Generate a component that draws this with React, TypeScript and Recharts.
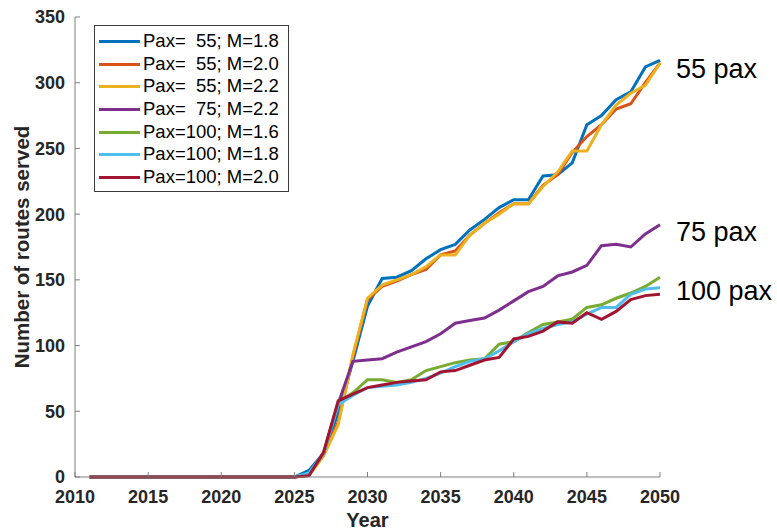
import React from 'react';
import { LineChart, Line, XAxis, YAxis, Legend, ReferenceDot, Label } from 'recharts';

// Simulation years (one point per year)
const years = [
  2011, 2012, 2013, 2014, 2015, 2016, 2017, 2018, 2019, 2020,
  2021, 2022, 2023, 2024, 2025, 2026, 2027, 2028, 2029, 2030,
  2031, 2032, 2033, 2034, 2035, 2036, 2037, 2038, 2039, 2040,
  2041, 2042, 2043, 2044, 2045, 2046, 2047, 2048, 2049, 2050,
];

// Number of routes served per scenario (2011 … 2050)
const pax55M18 = [
  0, 0, 0, 0, 0, 0, 0, 0, 0, 0, 0, 0, 0, 0,
  0, 5, 18, 49, 88, 130, 151, 152, 157, 166, 173, 177, 188, 196, 205, 211,
  211, 229, 230, 239, 268, 275, 287, 293, 312, 317,
];
const pax55M20 = [
  0, 0, 0, 0, 0, 0, 0, 0, 0, 0, 0, 0, 0, 0,
  0, 2, 17, 42, 91, 135, 145, 149, 154, 158, 169, 172, 184, 193, 201, 208,
  208, 222, 230, 247, 259, 268, 280, 284, 300, 315,
];
const pax55M22 = [
  0, 0, 0, 0, 0, 0, 0, 0, 0, 0, 0, 0, 0, 0,
  0, 1, 16, 40, 93, 136, 146, 150, 154, 160, 169, 169, 184, 193, 200, 208,
  208, 221, 232, 248, 248, 268, 283, 292, 298, 315,
];
const pax75M22 = [
  0, 0, 0, 0, 0, 0, 0, 0, 0, 0, 0, 0, 0, 0,
  0, 2, 18, 56, 88, 89, 90, 95, 99, 103, 109, 117, 119, 121, 127, 134,
  141, 145, 153, 156, 161, 176, 177, 175, 185, 192,
];
const pax100M16 = [
  0, 0, 0, 0, 0, 0, 0, 0, 0, 0, 0, 0, 0, 0,
  0, 2, 18, 57, 64, 74, 74, 72, 74, 81, 84, 87, 89, 90, 101, 103,
  110, 116, 118, 120, 129, 131, 136, 140, 145, 152,
];
const pax100M18 = [
  0, 0, 0, 0, 0, 0, 0, 0, 0, 0, 0, 0, 0, 0,
  0, 3, 18, 55, 62, 68, 69, 70, 72, 75, 79, 84, 88, 90, 96, 103,
  109, 113, 116, 118, 124, 129, 129, 139, 143, 144,
];
const pax100M20 = [
  0, 0, 0, 0, 0, 0, 0, 0, 0, 0, 0, 0, 0, 0,
  0, 1, 19, 58, 63, 68, 70, 72, 73, 74, 80, 81, 85, 89, 91, 105,
  107, 111, 118, 117, 125, 120, 126, 135, 138, 139,
];

const seriesNames = [
  'Pax=  55; M=1.8',
  'Pax=  55; M=2.0',
  'Pax=  55; M=2.2',
  'Pax=  75; M=2.2',
  'Pax=100; M=1.6',
  'Pax=100; M=1.8',
  'Pax=100; M=2.0',
];
const seriesColors = ['#0072BD', '#D95319', '#EDB120', '#7E2F8E', '#77AC30', '#4DBEEE', '#A2142F'];
const seriesValues = [pax55M18, pax55M20, pax55M22, pax75M22, pax100M16, pax100M18, pax100M20];
const seriesKeys = ['s0', 's1', 's2', 's3', 's4', 's5', 's6'];

const xTicks = [2010, 2015, 2020, 2025, 2030, 2035, 2040, 2045, 2050];
const yTicks = [0, 50, 100, 150, 200, 250, 300, 350];

// Group labels at the right edge of the plot
const groupLabels = [
  { text: '55 pax', value: 311 },
  { text: '75 pax', value: 187 },
  { text: '100 pax', value: 142 },
];

const data = years.map((year, i) => {
  const row: Record<string, number> = { year };
  seriesKeys.forEach((k, j) => {
    row[k] = seriesValues[j][i];
  });
  return row;
});

const FONT = "'Liberation Sans', Arial, Helvetica, sans-serif";
const AXIS_COLOR = '#7f7f7f';
const tickStyle = { fontSize: 18, fontWeight: 700, fill: '#262626', fontFamily: FONT };

const renderLegend = (props: any) => {
  const payload = [...(props.payload || [])].sort(
    (a: any, b: any) => seriesNames.indexOf(a.value) - seriesNames.indexOf(b.value),
  );
  return (
    <div
      style={{
        border: '1px solid #3c3c3c',
        background: '#fff',
        width: 195,
        height: 167,
        boxSizing: 'border-box',
        padding: '4px 0 0 0',
        fontFamily: FONT,
        fontSize: 18.5,
        color: '#000',
      }}
    >
      {payload.map((entry: any) => (
        <div
          key={entry.value}
          style={{ display: 'flex', alignItems: 'center', height: 22.7, lineHeight: '22.7px' }}
        >
          <span
            style={{
              display: 'inline-block',
              width: 41,
              height: 3,
              background: entry.color,
              marginLeft: 4,
              marginRight: 3,
            }}
          />
          <span style={{ whiteSpace: 'pre' }}>{entry.value}</span>
        </div>
      ))}
    </div>
  );
};

export default function App() {
  return (
    <div style={{ width: 777, height: 530, background: '#fff' }}>
      <style>{'body { margin: 0; }'}</style>
      <LineChart
        width={777}
        height={530}
        data={data}
        margin={{ top: 17, right: 117, bottom: 0, left: 0 }}
      >
        <XAxis
          dataKey="year"
          type="number"
          domain={[2010, 2050]}
          ticks={xTicks}
          allowDecimals={false}
          height={53}
          stroke={AXIS_COLOR}
          tickSize={-5}
          tickMargin={18}
          tick={tickStyle}
          interval={0}
        >
          <Label
            value="Year"
            position="insideBottom"
            offset={3}
            style={{ fontSize: 20, fontWeight: 700, fill: '#262626', fontFamily: FONT }}
          />
        </XAxis>
        <XAxis
          xAxisId="top"
          orientation="top"
          dataKey="year"
          type="number"
          domain={[2010, 2050]}
          ticks={xTicks}
          height={0}
          stroke={AXIS_COLOR}
          tickSize={-5}
          tickFormatter={() => ''}
          interval={0}
        />
        <YAxis
          type="number"
          domain={[0, 350]}
          ticks={yTicks}
          width={75}
          stroke={AXIS_COLOR}
          tickSize={-5}
          tickMargin={15}
          tick={tickStyle}
          interval={0}
        >
          <Label
            value="Number of routes served"
            angle={-90}
            position="insideLeft"
            offset={22}
            style={{ fontSize: 20.5, fontWeight: 700, fill: '#262626', fontFamily: FONT, textAnchor: 'middle' }}
          />
        </YAxis>
        <YAxis
          yAxisId="right"
          orientation="right"
          type="number"
          domain={[0, 350]}
          ticks={yTicks}
          width={0}
          stroke={AXIS_COLOR}
          tickSize={-5}
          tickFormatter={() => ''}
          interval={0}
        />
        {seriesKeys.map((k, j) => (
          <Line
            key={k}
            dataKey={k}
            name={seriesNames[j]}
            type="linear"
            stroke={seriesColors[j]}
            strokeWidth={3}
            dot={false}
            activeDot={false}
            isAnimationActive={false}
          />
        ))}
        {groupLabels.map((g) => (
          <ReferenceDot
            key={g.text}
            x={2050}
            y={g.value}
            r={0}
            fill="none"
            stroke="none"
            ifOverflow="visible"
            label={{
              value: g.text,
              position: 'right',
              offset: 16,
              fontSize: 27,
              fill: '#000',
              fontFamily: FONT,
            }}
          />
        ))}
        <Legend
          layout="vertical"
          align="center"
          verticalAlign="middle"
          content={renderLegend}
          wrapperStyle={{ left: 94, top: 25, width: 195 }}
        />
      </LineChart>
    </div>
  );
}
